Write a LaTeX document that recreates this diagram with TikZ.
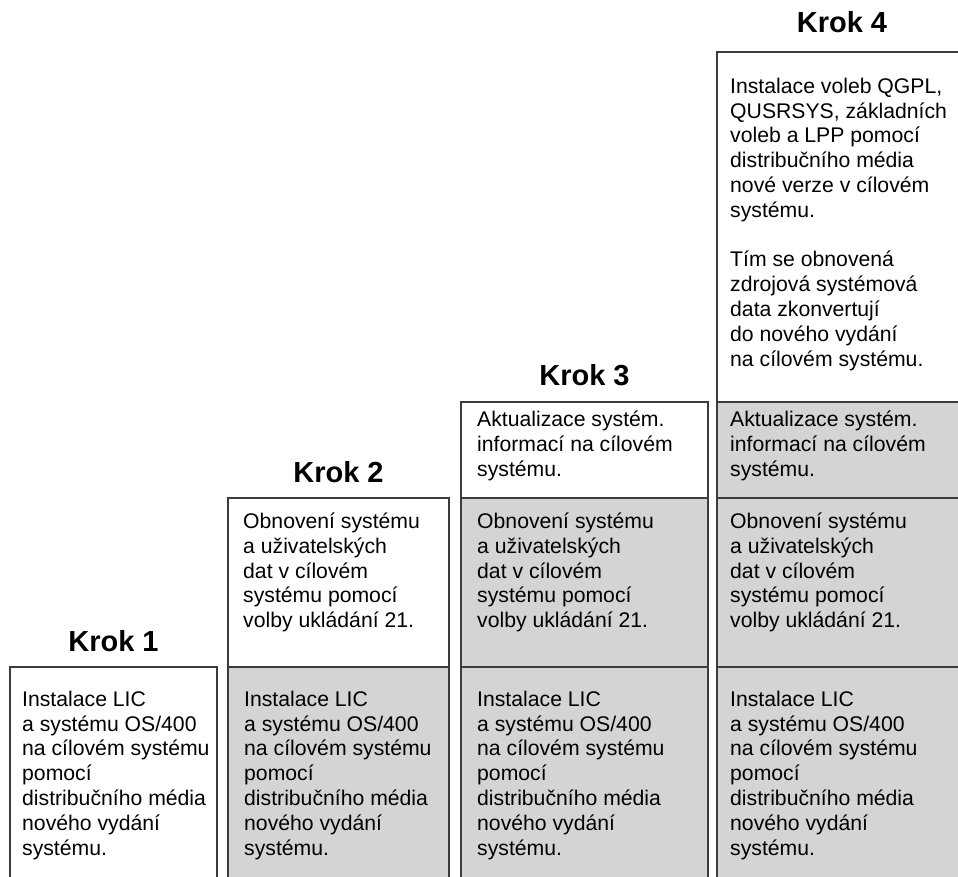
\documentclass[tikz,border=0pt]{standalone}
\usepackage{fontspec}
\setmainfont{Liberation Sans}
\usepackage{tikz}

\definecolor{doneGrey}{RGB}{211,212,214}
\definecolor{edgeGrey}{RGB}{60,60,60}

\tikzset{
    stepbox/.style={draw=edgeGrey, line width=1.1pt},
    donebox/.style={stepbox, fill=doneGrey},
    steptext/.style={anchor=north west, yshift=17.36pt, align=left, inner sep=0pt,
                     font=\fontsize{21.2}{24.8}\selectfont,
                     execute at begin node=\strut},
    steplabel/.style={anchor=base, inner sep=0pt,
                      font=\bfseries\fontsize{29}{30}\selectfont}
}

\begin{document}
\begin{tikzpicture}[x=1pt, y=-1pt]
    \clip (0,0) rectangle (958,877);

    % krok 1
    \draw[stepbox] (10,667) rectangle (217,890);
    \node[steplabel] (krok1) at (113.5,651) {Krok 1};
    \node[steptext]  (lic1)  at (22,708)
        {Instalace LIC\\a systému OS/400\\na cílovém systému\\pomocí\\distribučního média\\nového vydání\\systému.};

    % krok 2
    \draw[stepbox] (228,498) rectangle (449,667);
    \draw[donebox] (228,667) rectangle (449,890);
    \node[steplabel] (krok2) at (338.5,482) {Krok 2};
    \node[steptext]  (obn2)  at (243,530)
        {Obnovení systému\\a uživatelských\\dat v cílovém\\systému pomocí\\volby ukládání 21.};
    \node[steptext]  (lic2)  at (244,708)
        {Instalace LIC\\a systému OS/400\\na cílovém systému\\pomocí\\distribučního média\\nového vydání\\systému.};

    % krok 3
    \draw[stepbox] (461,402) rectangle (708,498);
    \draw[donebox] (461,498) rectangle (708,667);
    \draw[donebox] (461,667) rectangle (708,890);
    \node[steplabel] (krok3) at (584.5,385) {Krok 3};
    \node[steptext]  (akt3)  at (477,428)
        {Aktualizace systém.\\informací na cílovém\\systému.};
    \node[steptext]  (obn3)  at (477,530)
        {Obnovení systému\\a uživatelských\\dat v cílovém\\systému pomocí\\volby ukládání 21.};
    \node[steptext]  (lic3)  at (477,708)
        {Instalace LIC\\a systému OS/400\\na cílovém systému\\pomocí\\distribučního média\\nového vydání\\systému.};

    % krok 4
    \draw[stepbox] (717,52)  rectangle (975,402);
    \draw[donebox] (717,402) rectangle (975,498);
    \draw[donebox] (717,498) rectangle (975,667);
    \draw[donebox] (717,667) rectangle (975,890);
    \node[steplabel] (krok4) at (842,33) {Krok 4};
    \node[steptext]  (inst4) at (730,95)
        {Instalace voleb QGPL,\\QUSRSYS, základních\\voleb a LPP pomocí\\distribučního média\\nové verze v cílovém\\systému.\\[24.8pt]Tím se obnovená\\zdrojová systémová\\data zkonvertují\\do nového vydání\\na cílovém systému.};
    \node[steptext]  (akt4)  at (730,428)
        {Aktualizace systém.\\informací na cílovém\\systému.};
    \node[steptext]  (obn4)  at (730,530)
        {Obnovení systému\\a uživatelských\\dat v cílovém\\systému pomocí\\volby ukládání 21.};
    \node[steptext]  (lic4)  at (730,708)
        {Instalace LIC\\a systému OS/400\\na cílovém systému\\pomocí\\distribučního média\\nového vydání\\systému.};
\end{tikzpicture}
\end{document}
